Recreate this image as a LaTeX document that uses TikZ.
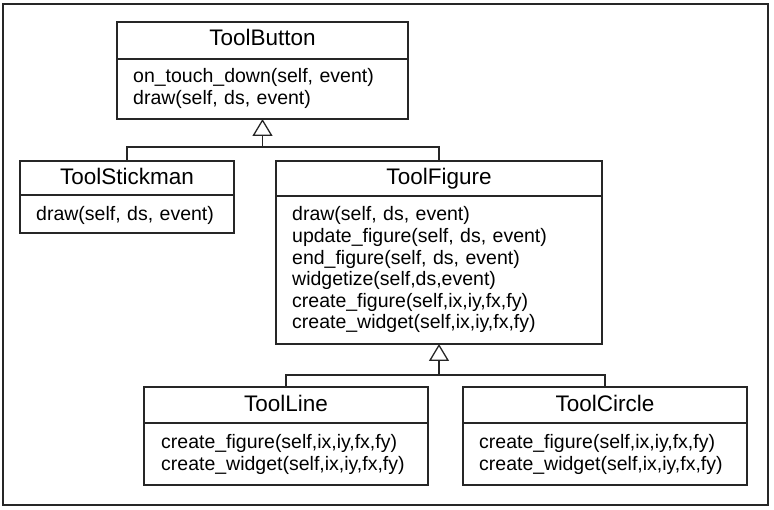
\documentclass[tikz,border=0pt]{standalone}
\usepackage{fontspec}
\setmainfont{Liberation Sans}
\usetikzlibrary{arrows.meta}
\newcommand{\ttlfont}{\fontsize{22.5}{26}\selectfont}
\newcommand{\mthfont}{\fontsize{19.5}{21.6}\selectfont}
\tikzset{
  cls/.style={draw=black!85, line width=1.3pt, anchor=north west, inner sep=0pt, outer sep=0pt},
  ttl/.style={font=\ttlfont, anchor=base, inner sep=0pt},
  mth/.style={font=\mthfont, anchor=base west, align=left, text width=300pt, inner sep=0pt},
  divider/.style={draw=black!85, line width=1.3pt},
  conn/.style={draw=black!85, line width=1.3pt},
  gen/.style={conn, -{Triangle[open, length=17pt, width=20pt, line width=1.3pt]}},
}
\begin{document}
\begin{tikzpicture}[x=1pt, y=-1pt]
\useasboundingbox (0,0) rectangle (774,510);
\draw[draw=black!85, line width=1.3pt] (3,4) rectangle (768,505);

% ToolButton
\node[cls, minimum width=291pt, minimum height=97pt] (tb) at (117,22) {};
\draw[divider] (117,59) -- (408,59);
\node[ttl] (tbt) at (262.5,46) {ToolButton};
\node[mth] (tbm) at (133,83) {on\_touch\_down(self, event)\\draw(self, ds, event)};

% ToolStickman
\node[cls, minimum width=214pt, minimum height=72pt] (ts) at (20,161) {};
\draw[divider] (20,195) -- (234,195);
\node[ttl] (tst) at (127,185) {ToolStickman};
\node[mth] (tsm) at (36,221) {draw(self, ds, event)};

% ToolFigure
\node[cls, minimum width=326pt, minimum height=183pt] (tf) at (276,161) {};
\draw[divider] (276,196) -- (602,196);
\node[ttl] (tft) at (439,185) {ToolFigure};
\node[mth] (tfm) at (292,221) {draw(self, ds, event)\\update\_figure(self, ds, event)\\end\_figure(self, ds, event)\\widgetize(self,ds,event)\\create\_figure(self,ix,iy,fx,fy)\\create\_widget(self,ix,iy,fx,fy)};

% ToolLine
\node[cls, minimum width=284pt, minimum height=98pt] (tl) at (144,387) {};
\draw[divider] (144,423) -- (428,423);
\node[ttl] (tlt) at (286,412) {ToolLine};
\node[mth] (tlm) at (161,449) {create\_figure(self,ix,iy,fx,fy)\\create\_widget(self,ix,iy,fx,fy)};

% ToolCircle
\node[cls, minimum width=284pt, minimum height=98pt] (tc) at (463,387) {};
\draw[divider] (463,423) -- (747,423);
\node[ttl] (tct) at (605,412) {ToolCircle};
\node[mth] (tcm) at (479,449) {create\_figure(self,ix,iy,fx,fy)\\create\_widget(self,ix,iy,fx,fy)};

% generalisation connectors
\coordinate (j1) at (262.5,147);
\draw[conn] (ts.north) |- (j1) -| (tf.north);
\draw[gen] (j1) -- (tb.south);

\coordinate (j2) at (439,375);
\draw[conn] (tl.north) |- (j2) -| (tc.north);
\draw[gen] (j2) -- (tf.south);
\end{tikzpicture}
\end{document}
